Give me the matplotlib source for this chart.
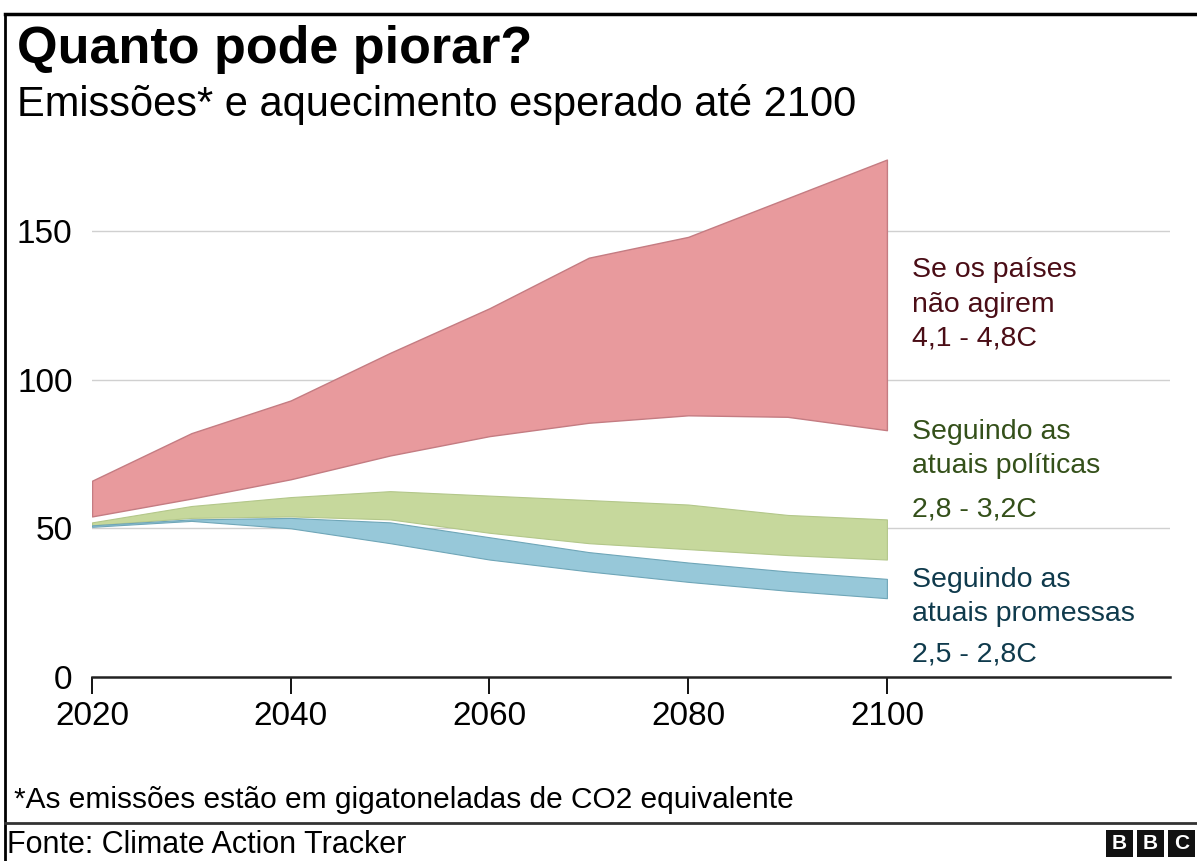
import matplotlib.pyplot as plt
from matplotlib.lines import Line2D
from matplotlib.patches import Rectangle

# dados (gigatoneladas de CO2 equivalente)
anos = [2020, 2030, 2040, 2050, 2060, 2070, 2080, 2090, 2100]
sem_acao_max = [66, 82, 93, 109, 124, 141, 148, 161, 174]
sem_acao_min = [54, 60, 66.5, 74.5, 81, 85.5, 88, 87.5, 83]
politicas_max = [52, 57.5, 60.5, 62.5, 61, 59.5, 58, 54.5, 53]
politicas_min = [51, 53.5, 54, 53, 48.5, 45, 43, 41, 39.5]
promessas_max = [51, 53, 53.5, 52, 47, 42, 38.5, 35.5, 33]
promessas_min = [50.5, 52.5, 50, 45, 39.5, 35.5, 32, 29, 26.5]

ticks_x = [2020, 2040, 2060, 2080, 2100]
ticks_y = [0, 50, 100, 150]

plt.rcParams['font.family'] = ['Liberation Sans', 'DejaVu Sans']

fig = plt.figure(figsize=(11.97, 8.61), dpi=100, facecolor='white')
ax = fig.add_axes([0.0769, 0.2137, 0.9006, 0.6217])

# faixas
ax.fill_between(anos, sem_acao_min, sem_acao_max, facecolor='#e89a9d',
                edgecolor='#c47c82', linewidth=1.0, zorder=2)
ax.fill_between(anos, politicas_min, politicas_max, facecolor='#c6d89c',
                edgecolor='#b3c78a', linewidth=0.8, zorder=2)
ax.fill_between(anos, promessas_min, promessas_max, facecolor='#97c8d9',
                edgecolor='#6fa6b8', linewidth=0.8, zorder=3)

ax.set_xlim(2020, 2128.5)
ax.set_ylim(0, 180)
ax.set_yticks(ticks_y)
ax.set_xticks(ticks_x)
ax.set_yticklabels([str(v) for v in ticks_y], fontsize=24)
ax.set_xticklabels([str(v) for v in ticks_x], fontsize=24)
ax.tick_params(axis='y', length=0, pad=14)
ax.tick_params(axis='x', length=12, width=1.3, direction='out', pad=5)

for v in ticks_y[1:]:
    ax.axhline(v, color='#d0d0d0', linewidth=1.0, zorder=1)

for s in ['top', 'right', 'left']:
    ax.spines[s].set_visible(False)
ax.spines['bottom'].set_linewidth(1.8)
ax.spines['bottom'].set_color('#222222')

# rótulos das faixas
xt = 2102.5
rotulos = [
    (136.9, 'Se os países', '#4a0d16'),
    (125.0, 'não agirem', '#4a0d16'),
    (113.8, '4,1 - 4,8C', '#4a0d16'),
    (82.4, 'Seguindo as', '#34501a'),
    (71.0, 'atuais políticas', '#34501a'),
    (56.2, '2,8 - 3,2C', '#34501a'),
    (32.6, 'Seguindo as', '#0f3a4c'),
    (21.2, 'atuais promessas', '#0f3a4c'),
    (7.4, '2,5 - 2,8C', '#0f3a4c'),
]
for y, txt, cor in rotulos:
    ax.text(xt, y, txt, color=cor, fontsize=20.5, va='center', ha='left')

# título e subtítulo
fig.text(0.014, 0.942, 'Quanto pode piorar?', fontsize=37.5, fontweight='bold',
         va='center', ha='left')
fig.text(0.014, 0.879, 'Emissões* e aquecimento esperado até 2100', fontsize=30,
         va='center', ha='left')

# rodapé
fig.text(0.012, 0.071, '*As emissões estão em gigatoneladas de CO2 equivalente',
         fontsize=21.5, va='center', ha='left')
fig.text(0.006, 0.019, 'Fonte: Climate Action Tracker', fontsize=22,
         va='center', ha='left')

# moldura
fig.add_artist(Line2D([5 / 1197, 5 / 1197], [0, 1 - 14 / 861],
                      transform=fig.transFigure, color='black', linewidth=2))
fig.add_artist(Line2D([5 / 1197, 1], [1 - 14 / 861, 1 - 14 / 861],
                      transform=fig.transFigure, color='black', linewidth=2.5))
fig.add_artist(Line2D([5 / 1197, 1], [1 - 823 / 861, 1 - 823 / 861],
                      transform=fig.transFigure, color='#333333', linewidth=2))

# logo BBC
for i, letra in enumerate('BBC'):
    x0 = (1106 + i * 31) / 1197
    fig.add_artist(Rectangle((x0, 1 - 857 / 861), 27 / 1197, 27 / 861,
                             transform=fig.transFigure, facecolor='#111111',
                             edgecolor='none'))
    fig.text(x0 + 13.5 / 1197, 1 - 843.5 / 861, letra, color='white',
             fontsize=15, fontweight='bold', ha='center', va='center')

fig.savefig('out.png', dpi=100, facecolor='white')
